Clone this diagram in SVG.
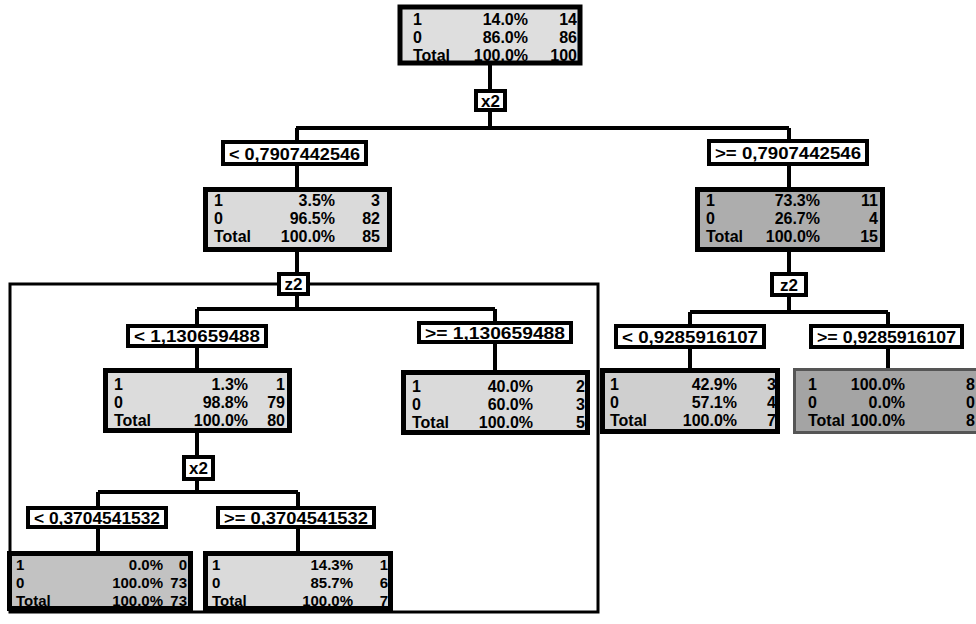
<svg xmlns="http://www.w3.org/2000/svg" width="976" height="624" viewBox="0 0 976 624">
<style>
.nb{stroke:#000;stroke-width:5}
.lb{fill:#fff;stroke:#000;stroke-width:4}
.t{font-family:"Liberation Sans",Arial,sans-serif;font-weight:bold;font-size:16px;fill:#000}
.s{font-size:15px}
.r{text-anchor:end}
.lt{font-family:"Liberation Sans",Arial,sans-serif;font-weight:bold;font-size:17px;fill:#000}
.c{fill:none;stroke:#000;stroke-width:4}
</style>
<rect width="976" height="624" fill="#fff"/>
<rect x="10" y="284" width="588" height="328" fill="none" stroke="#000" stroke-width="3"/>
<g id="connectors" class="c">
<path d="M490 65V90M490 110V128M296 128H789M297 128V141M297 165V187M297 252V273M297 295V309M197 309H495M197 309V325M495 309V322M197 347V368M495 343V370M197 433V456M197 480V492M98 492H298M98 492V507M298 492V507M98 528V551M298 528V551"/>
<path d="M789 128V140M789 165V187M789 252V272M789 297V312M690 312H888M690 312V325M888 312V325M690 348V368M888 348V368"/>
</g>
<g id="n_root">
<rect class="nb" x="400" y="7" width="180" height="56" fill="#dedede" stroke-width="6"/>
<text class="t" x="413" y="25">1</text><text class="t r" x="528" y="25">14.0%</text><text class="t r" x="577" y="25">14</text>
<text class="t" x="413" y="43">0</text><text class="t r" x="528" y="43">86.0%</text><text class="t r" x="577" y="43">86</text>
<text class="t" x="413" y="61">Total</text><text class="t r" x="528" y="61">100.0%</text><text class="t r" x="577" y="61">100</text>
</g>
<g id="l_x2a"><rect class="lb" x="476" y="91" width="29" height="19"/><text class="lt" x="490.5" y="107" text-anchor="middle">x2</text></g>
<g id="l_lt079"><rect class="lb" x="223" y="142" width="143" height="22"/><text class="lt" x="229" y="160" textLength="131" lengthAdjust="spacingAndGlyphs">&lt; 0,7907442546</text></g>
<g id="l_ge079"><rect class="lb" x="709" y="141" width="158" height="23"/><text class="lt" x="715" y="159" textLength="146" lengthAdjust="spacingAndGlyphs">&gt;= 0,7907442546</text></g>
<g id="n_left">
<rect class="nb" x="205.5" y="189.5" width="184" height="60" fill="#dadada"/>
<text class="t" x="214" y="206">1</text><text class="t r" x="335" y="206">3.5%</text><text class="t r" x="380" y="206">3</text>
<text class="t" x="214" y="224">0</text><text class="t r" x="335" y="224">96.5%</text><text class="t r" x="380" y="224">82</text>
<text class="t" x="214" y="242">Total</text><text class="t r" x="335" y="242">100.0%</text><text class="t r" x="380" y="242">85</text>
</g>
<g id="n_right">
<rect class="nb" x="697.5" y="189.5" width="185" height="60" fill="#adadad"/>
<text class="t" x="706" y="206">1</text><text class="t r" x="820" y="206">73.3%</text><text class="t r" x="878" y="206">11</text>
<text class="t" x="706" y="224">0</text><text class="t r" x="820" y="224">26.7%</text><text class="t r" x="878" y="224">4</text>
<text class="t" x="706" y="242">Total</text><text class="t r" x="820" y="242">100.0%</text><text class="t r" x="878" y="242">15</text>
</g>
<g id="l_z2a"><rect class="lb" x="279" y="274" width="29" height="20"/><text class="lt" x="293.5" y="290" text-anchor="middle">z2</text></g>
<g id="l_z2b"><rect class="lb" x="772" y="274" width="34" height="21"/><text class="lt" x="789" y="291" text-anchor="middle">z2</text></g>
<g id="l_lt113"><rect class="lb" x="128" y="326" width="138" height="20"/><text class="lt" x="134" y="342" textLength="126" lengthAdjust="spacingAndGlyphs">&lt; 1,130659488</text></g>
<g id="l_ge113"><rect class="lb" x="419" y="323" width="152" height="19"/><text class="lt" x="425" y="339" textLength="140" lengthAdjust="spacingAndGlyphs">&gt;= 1,130659488</text></g>
<g id="l_lt092"><rect class="lb" x="616" y="326" width="148" height="21"/><text class="lt" x="622" y="343" textLength="136" lengthAdjust="spacingAndGlyphs">&lt; 0,9285916107</text></g>
<g id="l_ge092"><rect class="lb" x="811" y="326" width="151" height="21"/><text class="lt" x="817" y="343" textLength="139" lengthAdjust="spacingAndGlyphs">&gt;= 0,9285916107</text></g>
<g id="n_ll">
<rect class="nb" x="105.5" y="370.5" width="184" height="60" fill="#dcdcdc"/>
<text class="t" x="114" y="390">1</text><text class="t r" x="248" y="390">1.3%</text><text class="t r" x="285" y="390">1</text>
<text class="t" x="114" y="408">0</text><text class="t r" x="248" y="408">98.8%</text><text class="t r" x="285" y="408">79</text>
<text class="t" x="114" y="426">Total</text><text class="t r" x="248" y="426">100.0%</text><text class="t r" x="285" y="426">80</text>
</g>
<g id="n_lr">
<rect class="nb" x="403.5" y="372.5" width="184" height="60" fill="#dadada"/>
<text class="t" x="412" y="392">1</text><text class="t r" x="533" y="392">40.0%</text><text class="t r" x="585" y="392">2</text>
<text class="t" x="412" y="410">0</text><text class="t r" x="533" y="410">60.0%</text><text class="t r" x="585" y="410">3</text>
<text class="t" x="412" y="428">Total</text><text class="t r" x="533" y="428">100.0%</text><text class="t r" x="585" y="428">5</text>
</g>
<g id="n_rl">
<rect class="nb" x="602.5" y="370.5" width="175" height="61" fill="#cfcfcf"/>
<text class="t" x="610" y="390">1</text><text class="t r" x="737" y="390">42.9%</text><text class="t r" x="776" y="390">3</text>
<text class="t" x="610" y="408">0</text><text class="t r" x="737" y="408">57.1%</text><text class="t r" x="776" y="408">4</text>
<text class="t" x="610" y="426">Total</text><text class="t r" x="737" y="426">100.0%</text><text class="t r" x="776" y="426">7</text>
</g>
<g id="n_rr">
<rect x="794.5" y="369.5" width="190" height="63" fill="#a4a4a4" stroke="#555" stroke-width="3"/>
<text class="t" x="808" y="390">1</text><text class="t r" x="905" y="390">100.0%</text><text class="t r" x="975" y="390">8</text>
<text class="t" x="808" y="408">0</text><text class="t r" x="905" y="408">0.0%</text><text class="t r" x="975" y="408">0</text>
<text class="t" x="808" y="426">Total</text><text class="t r" x="905" y="426">100.0%</text><text class="t r" x="975" y="426">8</text>
</g>
<g id="l_x2b"><rect class="lb" x="184" y="457" width="29" height="22"/><text class="lt" x="198.5" y="474" text-anchor="middle">x2</text></g>
<g id="l_lt037"><rect class="lb" x="28" y="508" width="138" height="19"/><text class="lt" x="34" y="524" textLength="126" lengthAdjust="spacingAndGlyphs">&lt; 0,3704541532</text></g>
<g id="l_ge037"><rect class="lb" x="218" y="508" width="156" height="19"/><text class="lt" x="224" y="524" textLength="144" lengthAdjust="spacingAndGlyphs">&gt;= 0,3704541532</text></g>
<g id="n_lll">
<rect class="nb" x="9.5" y="553.5" width="181" height="55" fill="#c2c2c2" stroke-width="4"/>
<text class="t s" x="16" y="570">1</text><text class="t s r" x="163" y="570">0.0%</text><text class="t s r" x="187" y="570">0</text>
<text class="t s" x="16" y="588">0</text><text class="t s r" x="163" y="588">100.0%</text><text class="t s r" x="187" y="588">73</text>
<text class="t s" x="16" y="606">Total</text><text class="t s r" x="163" y="606">100.0%</text><text class="t s r" x="187" y="606">73</text>
</g>
<g id="n_llr">
<rect class="nb" x="205.5" y="553.5" width="185" height="55" fill="#dadada" stroke-width="4"/>
<text class="t s" x="212" y="570">1</text><text class="t s r" x="353" y="570">14.3%</text><text class="t s r" x="388" y="570">1</text>
<text class="t s" x="212" y="588">0</text><text class="t s r" x="353" y="588">85.7%</text><text class="t s r" x="388" y="588">6</text>
<text class="t s" x="212" y="606">Total</text><text class="t s r" x="353" y="606">100.0%</text><text class="t s r" x="388" y="606">7</text>
</g>
</svg>
